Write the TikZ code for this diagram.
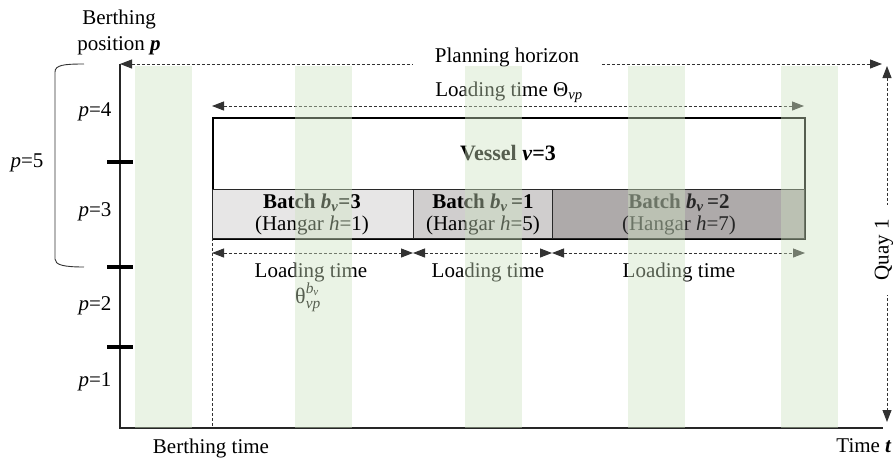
\documentclass[tikz,border=0pt]{standalone}
\usepackage{fontspec}
\setmainfont{Liberation Serif}
\usepackage{amsmath}
\usetikzlibrary{arrows.meta}
\definecolor{stripec}{RGB}{205,226,192}
\definecolor{dashc}{RGB}{50,50,50}
\definecolor{bOne}{RGB}{231,230,230}
\definecolor{bTwo}{RGB}{208,206,206}
\definecolor{bThree}{RGB}{174,170,170}
\definecolor{edgec}{RGB}{40,40,40}
\begin{document}
\begin{tikzpicture}[x=1pt,y=-1pt,
  txt/.style={font=\fontsize{21}{25}\selectfont, inner sep=0pt},
  dimarrow/.style={dash pattern=on 3pt off 2pt, draw=dashc, line width=1pt,
    {Triangle[length=12pt,width=9pt]}-{Triangle[length=12pt,width=9pt]}},
  boxed/.style={draw=edgec, line width=1.3pt, anchor=north west, inner sep=0pt},
  axisline/.style={line width=1.2pt, draw=black!85},
  tick/.style={line width=3.5pt, draw=black},
  stripe/.style={fill=stripec, fill opacity=0.42, draw=none}]
\useasboundingbox (0,0) rectangle (895,461);

% ---- axis labels
\node[txt, align=center] (bpos) at (119,32) {Berthing\\[1pt]position \textbf{\textit{p}}};
\node[txt] (btime) at (211,448) {Berthing time};
\node[txt] (ttime) at (864,446) {Time \textbf{\textit{t}}};

% ---- axes
\coordinate (otop) at (120,64);
\coordinate (orig) at (120,428);
\coordinate (xend) at (883,428);
\draw[axisline] (otop) -- (orig) -- (xend);

% ---- ticks
\coordinate (t1a) at (107,162); \coordinate (t1b) at (133,162);
\coordinate (t2a) at (107,267); \coordinate (t2b) at (133,267);
\coordinate (t3a) at (107,347); \coordinate (t3b) at (133,347);
\draw[tick] (t1a) -- (t1b);
\draw[tick] (t2a) -- (t2b);
\draw[tick] (t3a) -- (t3b);

% ---- position labels
\node[txt] (p4) at (95,112) {\textit{p}=4};
\node[txt] (p3) at (95,212) {\textit{p}=3};
\node[txt] (p2) at (95,306) {\textit{p}=2};
\node[txt] (p1) at (95,382) {\textit{p}=1};
\node[txt] (p5) at (27,163) {\textit{p}=5};

% ---- bracket
\draw[line width=0.9pt, black!80] (84,64) .. controls (64,64) and (55,65) .. (55,72)
  -- (55,259) .. controls (55,265) and (64,267) .. (84,267);

% ---- planning horizon
\coordinate (phl) at (120,64);
\coordinate (phr) at (882,64);
\draw[dimarrow] (phl) -- (phr);
\node[txt, fill=white, inner xsep=22pt, inner ysep=2pt] (ph) at (507,57) {Planning horizon};

% ---- quay arrow
\coordinate (qt) at (887,66);
\coordinate (qb) at (887,422);
\draw[dimarrow] (qt) -- (qb);
\node[txt, fill=white, rotate=90, inner xsep=14pt, inner ysep=1pt] (quay) at (884,250) {Quay 1};

% ---- vessel
\node[boxed, line width=1.5pt, draw=black, minimum width=592pt, minimum height=121pt] (vessel) at (212,117) {};
\node[boxed, fill=bOne, minimum width=201pt, minimum height=49pt] (bat1) at (212,189) {};
\node[boxed, fill=bTwo, minimum width=139pt, minimum height=49pt] (bat2) at (413,189) {};
\node[boxed, fill=bThree, minimum width=252pt, minimum height=49pt] (bat3) at (552,189) {};
\node[txt, font=\fontsize{22}{26}\selectfont\bfseries] (vlab) at (508,153) {Vessel \textit{v}=3};

\node[txt, font=\fontsize{21}{25}\selectfont\bfseries] (b1a) at (312,203) {Batch \textit{b}\textsubscript{\textit{v}}=3};
\node[txt] (b1b) at (312,225) {(Hangar \textit{h}=1)};
\node[txt, font=\fontsize{21}{25}\selectfont\bfseries] (b2a) at (483,203) {Batch \textit{b}\textsubscript{\textit{v}}\,=1};
\node[txt] (b2b) at (483,225) {(Hangar \textit{h}=5)};
\node[txt, font=\fontsize{21}{25}\selectfont\bfseries, text=black!85] (b3a) at (679,203) {Batch \textit{b}\textsubscript{\textit{v}}\,=2};
\node[txt, text=black!85] (b3b) at (679,225) {(Hangar \textit{h}=7)};

% ---- total loading time
\coordinate (lta) at (212,106);
\coordinate (ltb) at (804,106);
\draw[dimarrow] (lta) -- (ltb);
\node[txt] (ltlab) at (509,92) {Loading time Θ\textsubscript{\textit{vp}}};

% ---- batch loading times
\coordinate (la) at (212,253);
\coordinate (lb) at (413,253);
\coordinate (lc) at (552,253);
\coordinate (ld) at (805,253);
\draw[dimarrow] (la) -- (lb);
\draw[dimarrow] (lb) -- (lc);
\draw[dimarrow] (lc) -- (ld);
\node[txt] (lt1) at (311,272) {Loading time};
\node[txt] (lt2) at (488,272) {Loading time};
\node[txt] (lt3) at (679,272) {Loading time};
\node[txt, font=\fontsize{22}{26}\selectfont] (theta) at (308,297) {$\text{θ}^{\textit{b}_{\textit{v}}}_{\textit{vp}}$};

% ---- berthing time marker
\coordinate (bm1) at (212,238);
\coordinate (bm2) at (212,428);
\draw[dash pattern=on 3pt off 2pt, draw=dashc, line width=0.8pt] (bm1) -- (bm2);

% ---- green stripes
\foreach \xa in {135,295,465,628,781}{
  \fill[stripe] (\xa,66) rectangle ++(57,362);
}
\end{tikzpicture}
\end{document}
